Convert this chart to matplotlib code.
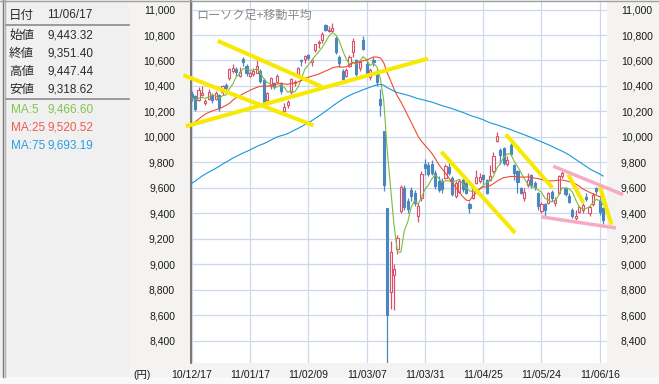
"""Nikkei candlestick chart with moving averages (10/12/17 - 11/06/17)."""

import matplotlib
matplotlib.use("Agg")
import matplotlib.pyplot as plt
from matplotlib.lines import Line2D
from matplotlib.patches import Rectangle
import numpy as np
import pandas as pd

plt.rcParams["font.family"] = ["Liberation Sans", "Noto Sans CJK JP"]

# --- data -------------------------------------------------------------
dates = [
    "10/12/17", "10/12/20", "10/12/21", "10/12/22", "10/12/24", "10/12/27", "10/12/28", "10/12/29", "10/12/30",
    "11/01/04", "11/01/05", "11/01/06", "11/01/07", "11/01/11", "11/01/12", "11/01/13", "11/01/14", "11/01/17",
    "11/01/18", "11/01/19", "11/01/20", "11/01/21", "11/01/24", "11/01/25", "11/01/26", "11/01/27", "11/01/28",
    "11/01/31", "11/02/01", "11/02/02", "11/02/03", "11/02/04", "11/02/07", "11/02/08", "11/02/09", "11/02/10",
    "11/02/14", "11/02/15", "11/02/16", "11/02/17", "11/02/18", "11/02/21", "11/02/22", "11/02/23", "11/02/24",
    "11/02/25", "11/02/28", "11/03/01", "11/03/02", "11/03/03", "11/03/04", "11/03/07", "11/03/08", "11/03/09",
    "11/03/10", "11/03/11", "11/03/14", "11/03/15", "11/03/16", "11/03/17", "11/03/18", "11/03/22", "11/03/23",
    "11/03/24", "11/03/25", "11/03/28", "11/03/29", "11/03/30", "11/03/31", "11/04/01", "11/04/04", "11/04/05",
    "11/04/06", "11/04/07", "11/04/08", "11/04/11", "11/04/12", "11/04/13", "11/04/14", "11/04/15", "11/04/18",
    "11/04/19", "11/04/20", "11/04/21", "11/04/22", "11/04/25", "11/04/26", "11/04/27", "11/04/28", "11/05/02",
    "11/05/06", "11/05/09", "11/05/10", "11/05/11", "11/05/12", "11/05/13", "11/05/16", "11/05/17", "11/05/18",
    "11/05/19", "11/05/20", "11/05/23", "11/05/24", "11/05/25", "11/05/26", "11/05/27", "11/05/30", "11/05/31",
    "11/06/01", "11/06/02", "11/06/03", "11/06/06", "11/06/07", "11/06/08", "11/06/09", "11/06/10", "11/06/13",
    "11/06/14", "11/06/15", "11/06/16", "11/06/17",
]

opens = [
    10340, 10325, 10290, 10330, 10270, 10300, 10330, 10300, 10330,
    10352, 10410, 10460, 10520, 10530, 10480, 10610, 10560, 10480,
    10490, 10500, 10520, 10450, 10290, 10400, 10420, 10430, 10420,
    10205, 10250, 10350, 10420, 10480, 10600, 10610, 10640, 10590,
    10680, 10740, 10760, 10880, 10830, 10830, 10780, 10630, 10520,
    10480, 10560, 10670, 10600, 10540, 10760, 10570, 10470, 10600,
    10520, 10298, 10044, 9442, 8780, 8913, 9120, 9420, 9600,
    9500, 9585, 9560, 9380, 9520, 9790, 9780, 9790, 9720,
    9650, 9650, 9680, 9760, 9680, 9540, 9570, 9660, 9640,
    9470, 9520, 9640, 9650, 9700, 9660, 9660, 9730, 9970,
    9900, 9910, 9790, 9940, 9780, 9730, 9600, 9520, 9620,
    9700, 9640, 9560, 9420, 9470, 9480, 9570, 9480, 9560,
    9690, 9600, 9540, 9430, 9360, 9410, 9430, 9530, 9400,
    9470, 9600, 9500, 9443.32,
]
highs = [
    10360, 10330, 10395, 10400, 10300, 10380, 10345, 10360, 10340,
    10409, 10420, 10540, 10570, 10550, 10550, 10630, 10570, 10520,
    10540, 10600, 10530, 10460, 10350, 10470, 10430, 10490, 10430,
    10270, 10290, 10460, 10450, 10550, 10610, 10640, 10650, 10620,
    10730, 10760, 10820, 10890, 10870, 10891, 10790, 10640, 10530,
    10540, 10640, 10780, 10610, 10600, 10790, 10600, 10540, 10630,
    10530, 10378, 10050, 9442, 9180, 9000, 9230, 9620, 9620,
    9520, 9610, 9580, 9480, 9730, 9830, 9800, 9820, 9740,
    9690, 9680, 9790, 9800, 9690, 9650, 9670, 9680, 9650,
    9490, 9610, 9740, 9720, 9710, 9670, 9780, 9880, 10035,
    9910, 9920, 9850, 9950, 9790, 9740, 9610, 9600, 9720,
    9710, 9650, 9570, 9490, 9480, 9570, 9580, 9530, 9700,
    9730, 9610, 9560, 9440, 9430, 9460, 9480, 9560, 9460,
    9560, 9610, 9520, 9447.44,
]
lows = [
    10280, 10200, 10280, 10320, 10250, 10290, 10270, 10290, 10200,
    10330, 10350, 10450, 10500, 10480, 10470, 10560, 10480, 10470,
    10480, 10510, 10420, 10260, 10280, 10380, 10380, 10420, 10340,
    10180, 10230, 10340, 10400, 10470, 10560, 10580, 10600, 10560,
    10670, 10700, 10740, 10830, 10820, 10820, 10650, 10550, 10420,
    10470, 10550, 10630, 10480, 10520, 10680, 10480, 10450, 10560,
    10400, 10167, 9578, 8227, 8650, 8640, 9080, 9400, 9430,
    9400, 9500, 9460, 9330, 9500, 9700, 9690, 9700, 9590,
    9570, 9560, 9670, 9700, 9540, 9520, 9560, 9570, 9550,
    9400, 9510, 9630, 9640, 9630, 9550, 9650, 9720, 9960,
    9790, 9780, 9770, 9850, 9660, 9560, 9550, 9500, 9610,
    9600, 9580, 9430, 9400, 9370, 9470, 9500, 9460, 9550,
    9680, 9540, 9480, 9360, 9350, 9400, 9400, 9500, 9380,
    9460, 9550, 9390, 9318.62,
]
closes = [
    10303.83, 10216.41, 10370.53, 10346.48, 10279.19, 10355.99, 10292.63, 10344.54, 10228.92,
    10398.10, 10380.77, 10529.76, 10541.04, 10510.68, 10512.80, 10589.76, 10499.04, 10502.86,
    10518.98, 10557.10, 10437.31, 10274.52, 10345.11, 10464.42, 10401.90, 10478.66, 10360.34,
    10237.92, 10274.50, 10457.36, 10431.36, 10543.52, 10592.04, 10635.98, 10617.83, 10605.65,
    10725.54, 10746.67, 10808.29, 10836.64, 10842.80, 10857.53, 10664.70, 10579.10, 10452.71,
    10526.76, 10624.09, 10754.03, 10492.38, 10586.02, 10693.66, 10505.02, 10525.19, 10589.50,
    10434.38, 10254.43, 9620.49, 8605.15, 9093.72, 8962.67, 9206.75, 9608.32, 9449.47,
    9435.01, 9536.13, 9478.53, 9459.08, 9708.79, 9755.10, 9708.39, 9718.89, 9615.55,
    9584.37, 9590.93, 9768.08, 9719.70, 9555.26, 9641.18, 9653.92, 9591.52, 9556.65,
    9441.03, 9606.82, 9685.77, 9682.21, 9671.83, 9558.69, 9691.84, 9849.74, 10004.20,
    9859.20, 9794.38, 9818.76, 9864.26, 9716.65, 9648.77, 9558.30, 9567.02, 9662.08,
    9620.82, 9607.08, 9460.63, 9477.17, 9422.88, 9562.05, 9521.94, 9504.97, 9693.73,
    9719.61, 9555.04, 9492.21, 9380.35, 9380.25, 9449.46, 9467.15, 9514.44, 9448.21,
    9547.79, 9574.32, 9411.28, 9351.40,
]

# closes before the first visible bar (needed for the 75-day average)
prior_closes = [
    8991.06, 8824.06, 8927.02, 9062.84, 9114.13, 9301.32, 9226.00, 9024.60, 9098.39, 9239.17,
    9321.82, 9299.31, 9516.56, 9509.50, 9626.09, 9602.11, 9566.32, 9471.67, 9603.14, 9495.76,
    9559.38, 9369.35, 9404.23, 9381.06, 9518.76, 9691.43, 9684.81, 9588.88, 9388.64, 9403.51,
    9583.51, 9500.25, 9498.49, 9539.45, 9381.60, 9376.48, 9426.71, 9401.16, 9377.38, 9387.03,
    9366.03, 9202.45, 9154.72, 9159.98, 9358.78, 9625.99, 9732.92, 9694.49, 9830.52, 9861.46,
    9724.81, 9827.51, 9797.10, 9811.66, 10013.63, 10022.39, 10115.19, 10030.11, 10079.76, 10039.56,
    10125.99, 9937.04, 9988.05, 10168.52, 10178.32, 10167.09, 10141.10, 10232.33, 10285.88, 10211.95,
    10293.89, 10316.77, 10309.78, 10311.29,
]

tick_labels = ["10/12/17", "11/01/17", "11/02/09", "11/03/07", "11/03/31", "11/04/25", "11/05/24", "11/06/16"]

ma_periods = [5, 25, 75]

# hand-drawn trend lines: (start index, start price, end index, end price)
yellow_lines = [
    (7.6, 10754, 37.9, 10395),
    (-2.4, 10484, 35.5, 10090),
    (-1.7, 10083, 68.9, 10615),
    (72.8, 9883, 94.3, 9246),
    (91.6, 10020, 105.2, 9600),
    (109.8, 9705, 114.2, 9482),
    (119.0, 9613, 122.4, 9311),
]
pink_lines = [
    (105.4, 9770, 125.8, 9547),
    (102.0, 9372, 123.7, 9285),
]

info_labels = ["始値", "終値", "高値", "安値"]
info_values = ["9,443.32", "9,351.40", "9,447.44", "9,318.62"]
ma_labels = ["MA:5", "MA:25", "MA:75"]
ma_values = ["9,466.60", "9,520.52", "9,693.19"]

# --- style ------------------------------------------------------------
UP = "#d9506a"
DOWN = "#4a86c0"
MA_COLORS = ["#7cbc3c", "#ef4b30", "#1797dc"]
MA_TEXT = ["#86c34a", "#ef5a4e", "#2d9ee0"]
GRID = "#cdd8ec"
TXT = "#2b2b2b"

W, H = 659, 384


def px(x, y):
    return x / W, 1 - y / H


fig = plt.figure(figsize=(W / 100, H / 100), dpi=100, facecolor="#f4f3f1")

# left info panel + frame
fig.add_artist(Rectangle(px(0, 377), 129 / W, 377 / H, transform=fig.transFigure,
                         facecolor="#f0f0f0", edgecolor="none", zorder=0))
fig.add_artist(Rectangle((0, 0), 1, 7 / H, transform=fig.transFigure,
                         facecolor="#f9f9f9", edgecolor="none", zorder=0))
for xx, col in [(3, "#7a7a7a"), (4.6, "#b4b4b4")]:
    fig.add_artist(Line2D([xx / W, xx / W], [1 - 377 / H, 1], transform=fig.transFigure,
                          color=col, lw=1.0))
fig.add_artist(Line2D([0, 1], [1 - 0.5 / H, 1 - 0.5 / H], transform=fig.transFigure,
                      color="#a0a0a0", lw=1.0))
for yy in (25, 99):
    fig.add_artist(Line2D([6 / W, 129 / W], [1 - yy / H] * 2, transform=fig.transFigure,
                          color="#8c8c8c", lw=1.2))

fig.text(*px(9, 15), "日付", fontsize=9, color=TXT, va="center", family=["Noto Sans CJK JP"])
fig.text(*px(47, 15), dates[-1], fontsize=8.5, color=TXT, va="center")
for i, (lab, val) in enumerate(zip(info_labels, info_values)):
    y = 35 + i * 18.1
    fig.text(*px(9, y), lab, fontsize=9, color=TXT, va="center", family=["Noto Sans CJK JP"])
    fig.text(*px(47, y), val, fontsize=8.5, color=TXT, va="center")
for i, (lab, val) in enumerate(zip(ma_labels, ma_values)):
    y = 110 + i * 17.9
    fig.text(*px(11, y), lab, fontsize=8.5, color=MA_TEXT[i], va="center")
    fig.text(*px(47, y), val, fontsize=8.5, color=MA_TEXT[i], va="center")

# --- chart ------------------------------------------------------------
ax = fig.add_axes([191 / W, 1 - 363 / H, (607 - 191) / W, (363 - 1) / H])
ax.set_facecolor("white")

o = np.array(opens, dtype=float)
h = np.array(highs, dtype=float)
lo = np.array(lows, dtype=float)
c = np.array(closes, dtype=float)
x = np.arange(len(c))
up = c >= o

ax.vlines(x, lo, h, colors=np.where(up, UP, DOWN), lw=0.9, zorder=2)
ax.bar(x, np.maximum(np.abs(c - o), 1), bottom=np.minimum(o, c), width=0.62,
       color=np.where(up, "white", DOWN), edgecolor=np.where(up, UP, DOWN),
       lw=0.8, zorder=3)

all_closes = pd.Series(prior_closes + closes)
for n, col in zip(ma_periods, MA_COLORS):
    ma = all_closes.rolling(n).mean().to_numpy()[-len(closes):]
    ax.plot(x, ma, color=col, lw=0.8, zorder=4)

for x0, y0, x1, y1 in yellow_lines:
    ax.plot([x0, x1], [y0, y1], color="#f7ea00", lw=2.9, clip_on=False,
            solid_capstyle="butt", zorder=6)
for x0, y0, x1, y1 in pink_lines:
    ax.plot([x0, x1], [y0, y1], color="#f7aac6", lw=2.5, clip_on=False,
            solid_capstyle="butt", zorder=6)

ax.set_xlim(-0.2, 121.1)
ax.set_ylim(8225, 11067)

yticks = np.arange(8400, 11001, 200)
ax.set_yticks(yticks)
ax.set_yticklabels([f"{v:,}" for v in yticks])
ax.set_xticks([dates.index(d) for d in tick_labels])
ax.set_xticklabels(tick_labels)
ax.tick_params(axis="both", length=0, labelsize=7.5, labelcolor="#1a1a1a")
ax.tick_params(axis="y", pad=11.5)
ax.tick_params(axis="x", pad=5)
ax.grid(True, color=GRID, lw=0.9, zorder=0)
ax.set_axisbelow(True)
for side in ("top", "right", "bottom"):
    ax.spines[side].set_visible(False)
ax.spines["left"].set_color("#606060")
ax.spines["left"].set_linewidth(1.2)

ax2 = ax.twinx()
ax2.set_ylim(ax.get_ylim())
ax2.set_yticks(yticks)
ax2.set_yticklabels([f"{v:,}" for v in yticks])
ax2.tick_params(axis="y", length=0, labelsize=7.5, labelcolor="#1a1a1a", pad=10)
for s in ax2.spines.values():
    s.set_visible(False)

fig.text(*px(196, 15), "ローソク足+移動平均", fontsize=8.7, color="#8a8a8a", va="center",
         family=["Noto Sans CJK JP"])
fig.text(*px(133, 375), "(円)", fontsize=7.5, color="#1a1a1a", va="center",
         family=["Liberation Sans", "Noto Sans CJK JP"])

fig.savefig("out.png", dpi=100, facecolor=fig.get_facecolor())
